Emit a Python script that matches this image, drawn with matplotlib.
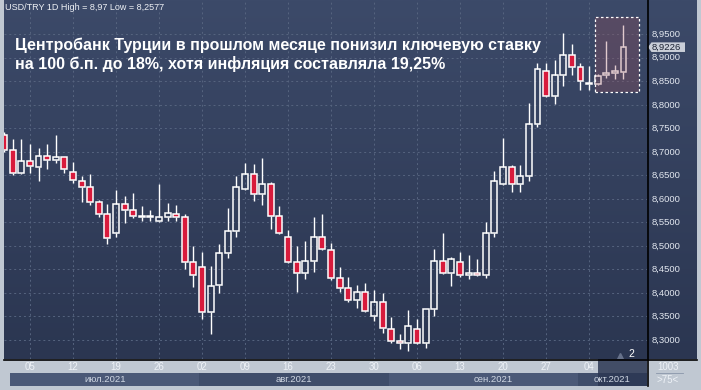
import numpy as np
import pandas as pd
import matplotlib.pyplot as plt
from matplotlib.colors import LinearSegmentedColormap
from matplotlib.patches import Rectangle, Polygon
from matplotlib.lines import Line2D

plt.rcParams['font.family'] = ['Liberation Sans', 'DejaVu Sans']

# daily USD/TRY candles, 30 Jun - 8 Oct 2021 (weekdays)
dates = pd.bdate_range('2021-06-30', '2021-10-08')
opens = [8.736, 8.704, 8.655, 8.681, 8.668, 8.691, 8.683, 8.689,
         8.657, 8.639, 8.625, 8.593, 8.567,
         8.527, 8.589, 8.576, 8.562, 8.561,
         8.553, 8.561, 8.567, 8.561, 8.465,
         8.455, 8.360, 8.416, 8.485, 8.532,
         8.620, 8.652, 8.610, 8.631, 8.563,
         8.520, 8.465, 8.442, 8.469, 8.520,
         8.491, 8.431, 8.410, 8.384, 8.401,
         8.350, 8.380, 8.323, 8.297, 8.293,
         8.323, 8.293, 8.365, 8.469, 8.442,
         8.465, 8.438, 8.443, 8.438, 8.527,
         8.631, 8.667, 8.631, 8.648, 8.759,
         8.873, 8.818, 8.863, 8.905, 8.880,
         8.844, 8.844, 8.863, 8.867, 8.870]
highs = [8.742, 8.727, 8.727, 8.717, 8.708, 8.717, 8.736, 8.690,
         8.678, 8.649, 8.653, 8.598, 8.589,
         8.619, 8.606, 8.613, 8.585, 8.576,
         8.632, 8.591, 8.587, 8.567, 8.500,
         8.487, 8.458, 8.504, 8.581, 8.649,
         8.676, 8.674, 8.686, 8.635, 8.585,
         8.534, 8.500, 8.511, 8.561, 8.568,
         8.506, 8.455, 8.435, 8.417, 8.421,
         8.406, 8.399, 8.348, 8.313, 8.364,
         8.345, 8.366, 8.494, 8.527, 8.476,
         8.487, 8.480, 8.472, 8.551, 8.660,
         8.729, 8.672, 8.672, 8.803, 8.888,
         8.890, 8.895, 8.952, 8.929, 8.888,
         8.883, 8.866, 8.935, 8.885, 8.970]
lows = [8.700, 8.651, 8.652, 8.656, 8.639, 8.664, 8.677, 8.656,
        8.633, 8.594, 8.586, 8.562, 8.504,
        8.520, 8.549, 8.560, 8.552, 8.552,
        8.551, 8.552, 8.554, 8.452, 8.413,
        8.345, 8.312, 8.399, 8.474, 8.520,
        8.619, 8.596, 8.586, 8.535, 8.526,
        8.463, 8.401, 8.429, 8.445, 8.491,
        8.428, 8.403, 8.381, 8.367, 8.360,
        8.341, 8.314, 8.293, 8.281, 8.277,
        8.292, 8.284, 8.350, 8.441, 8.415,
        8.435, 8.429, 8.436, 8.431, 8.520,
        8.630, 8.615, 8.615, 8.637, 8.752,
        8.817, 8.802, 8.839, 8.863, 8.832,
        8.832, 8.842, 8.856, 8.854, 8.854]
closes = [8.704, 8.655, 8.681, 8.670, 8.691, 8.682, 8.689, 8.663,
          8.640, 8.625, 8.593, 8.567, 8.516,
          8.589, 8.576, 8.564, 8.564, 8.563,
          8.561, 8.569, 8.561, 8.465, 8.438,
          8.360, 8.415, 8.484, 8.531, 8.625,
          8.652, 8.610, 8.631, 8.563, 8.527,
          8.465, 8.442, 8.469, 8.520, 8.493,
          8.431, 8.410, 8.384, 8.401, 8.361,
          8.380, 8.325, 8.297, 8.293, 8.329,
          8.293, 8.365, 8.469, 8.442, 8.472,
          8.438, 8.443, 8.438, 8.527, 8.637,
          8.667, 8.631, 8.648, 8.759, 8.877,
          8.818, 8.863, 8.905, 8.880, 8.850,
          8.847, 8.861, 8.868, 8.872, 8.9226]

last_price = 8.9226
price_levels = np.round(np.arange(8.30, 8.951, 0.05), 2)
month_names = {7: 'июл.2021', 8: 'авг.2021', 9: 'сен.2021', 10: 'окт.2021'}
title_lines = ['Центробанк Турции в прошлом месяце понизил ключевую ставку',
               'на 100 б.п. до 18%, хотя инфляция составляла 19,25%']
header = 'USD/TRY 1D High = 8,97 Low = 8,2577'

W, H = 701, 390
BG_TOP, BG_BOT = '#3c4a69', '#2b3651'
GRID = '#56647f'
RED = '#d81b3c'
TXT = '#e2e7ef'


def rect(x0, y0, x1, y1):
    # pixel box (top-left origin) -> figure fraction
    return [x0 / W, 1 - y1 / H, (x1 - x0) / W, (y1 - y0) / H]


def gradient(ax, xl, yl):
    cmap = LinearSegmentedColormap.from_list('bg', [BG_TOP, BG_BOT])
    ax.imshow(np.linspace(0, 1, 256).reshape(-1, 1), cmap=cmap, aspect='auto',
              extent=(xl[0], xl[1], yl[0], yl[1]), zorder=0)
    ax.set_xlim(xl)
    ax.set_ylim(yl)


def fmt(v):
    return f'{v:.4f}'.replace('.', ',')


fig = plt.figure(figsize=(W / 100, H / 100), dpi=100, facecolor='#c0c8d2')

o, h, l, c = map(np.array, (opens, highs, lows, closes))
x = np.arange(len(dates))
xlim = (-0.02, 74.74)
ylim = (8.2596, 9.0229)

# main price panel
ax = fig.add_axes(rect(4, 0, 647, 359))
gradient(ax, xlim, ylim)
ax.set_axis_off()
mondays = np.where(dates.dayofweek == 0)[0]
for v in price_levels:
    ax.axhline(v, color=GRID, lw=0.7, ls=(0, (2, 3)), zorder=1)
for m in mondays:
    ax.axvline(m, color=GRID, lw=0.7, ls=(0, (2, 3)), zorder=1)

up = c >= o
top = np.maximum(o, c)
bot = np.minimum(o, c)
ax.vlines(x, top, h, color='white', lw=1.0, zorder=3)
ax.vlines(x, l, bot, color='white', lw=1.0, zorder=3)
ax.bar(x, np.maximum(top - bot, 0.0008), bottom=bot, width=0.68,
       color=['none' if u else RED for u in up], edgecolor='white',
       linewidth=1.1, zorder=4)

# highlighted last days
bx0, bx1, by0, by1 = 68.65, 73.8, 8.828, 8.987
ax.add_patch(Rectangle((bx0, by0), bx1 - bx0, by1 - by0,
                       fc=(0.6, 0.31, 0.36), alpha=0.3, lw=0, zorder=5))
ax.add_patch(Rectangle((bx0, by0), bx1 - bx0, by1 - by0, fill=False,
                       ec='white', lw=0.9, ls=(0, (2, 2)), zorder=6))

ax.plot([71.6], [8.266], marker='^', ms=5, color='#66718a', zorder=6)
ax.text(72.6, 8.271, '2', color='white', fontsize=7.5, va='center', zorder=6)

fig.text(5 / W, 1 - 8 / H, header, fontsize=6.5, color='#eef1f5', va='center')
fig.text(15 / W, 1 - 45 / H, title_lines[0], fontsize=11.5, fontweight='bold',
         color='white', va='center')
fig.text(15 / W, 1 - 64 / H, title_lines[1], fontsize=11.5, fontweight='bold',
         color='white', va='center')

# right price scale
axr = fig.add_axes(rect(647, 0, 697, 359))
gradient(axr, (0, 1), ylim)
axr.set_axis_off()
for v in price_levels:
    axr.text(0.1, v, fmt(v), fontsize=6.8, color=TXT, va='center')
dh = 0.0102
axr.add_patch(Polygon([(0.02, last_price), (0.09, last_price + dh), (0.76, last_price + dh),
                       (0.76, last_price - dh), (0.09, last_price - dh)],
                      closed=True, fc='#c9ced8', ec='none', zorder=5))
axr.text(0.1, last_price, fmt(last_price), fontsize=6.8, color='#1b2233',
         va='center', zorder=6)

# date scale
axb = fig.add_axes(rect(4, 359, 647, 386))
axb.set_facecolor('#3a4865')
axb.set_xlim(xlim)
axb.set_ylim(0, 1)
axb.set_axis_off()
month_start = {}
for i, d in enumerate(dates):
    if d.month in month_names and d.month not in month_start:
        month_start[d.month] = i
months = sorted(month_start)
for j, mo in enumerate(months):
    s = month_start[mo] - 0.3
    e = month_start[months[j + 1]] - 0.3 if j + 1 < len(months) else xlim[1]
    if mo == 9:
        e = 69.05
    fc = '#4b5977' if j % 2 == 0 else '#3f4d6a'
    axb.add_patch(Rectangle((s, 0), e - s, 0.48, fc=fc, lw=0, zorder=1))
    axb.text((s + e) / 2 if mo != 10 else 70.7, 0.25, month_names[mo],
             fontsize=6.8, color='#cfd7e3', ha='center', va='center', zorder=4)
axb.add_patch(Rectangle((69.05, 0), xlim[1] - 69.05, 1, fc='#2c3753', alpha=0.85,
                        lw=0, zorder=3))
for m in mondays:
    axb.text(m, 0.70, dates[m].strftime('%d'), fontsize=7, color='#eef2f7',
             ha='center', va='center', zorder=4)

# corner box
axc = fig.add_axes(rect(647, 359, 697, 386))
axc.set_facecolor('#3c4a67')
axc.set_xlim(0, 1)
axc.set_ylim(0, 1)
axc.set_axis_off()
axc.text(0.42, 0.72, '1003', fontsize=7, color='#eef2f7', ha='center', va='center')
axc.plot([0.18, 0.72], [0.47, 0.47], color='#8a96aa', lw=0.6)
axc.text(0.42, 0.24, '>75<', fontsize=7, color='#eef2f7', ha='center', va='center')

fig.add_artist(Line2D([647.5 / W] * 2, [1 - 386 / H, 1], color='black', lw=1.2))
fig.add_artist(Line2D([4 / W, 697 / W], [1 - 359.5 / H] * 2, color='black', lw=1.2))

fig.savefig('out.png', dpi=100, facecolor=fig.get_facecolor())
